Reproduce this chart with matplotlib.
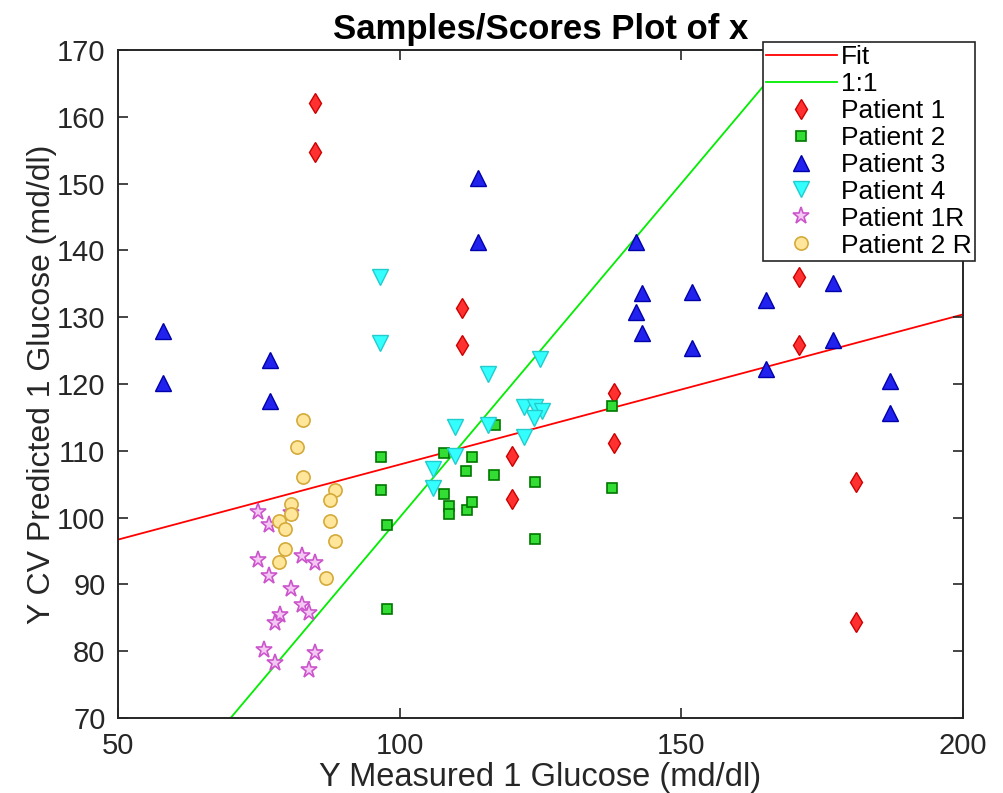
import matplotlib
matplotlib.use("Agg")
import matplotlib.pyplot as plt

plt.rcParams['font.family'] = ['Liberation Sans', 'DejaVu Sans']

# fitted line and 1:1 reference
fit_x = [50, 200]
fit_y = [96.7, 130.4]
one_x = [50, 200]
one_y = [50, 200]

# Patient 1
p1_x = [85, 85, 111, 111, 120, 120, 138, 138, 171, 171, 181, 181]
p1_y = [162, 154.7, 131.3, 125.8, 109.2, 102.8, 118.6, 111.2, 136, 125.8, 105.4, 84.4]

# Patient 2
p2_x = [107.8, 116.9, 112.9, 111.8, 116.7, 124.0, 137.8, 137.8, 107.8, 108.8,
        108.8, 111.9, 112.9, 124.0, 96.7, 96.7, 97.7, 97.7]
p2_y = [109.7, 113.8, 109.1, 107.0, 106.4, 105.3, 116.7, 104.4, 103.5, 101.8,
        100.5, 101.2, 102.3, 96.8, 109.1, 104.1, 98.9, 86.3]

# Patient 3
p3_x = [58, 58, 77, 77, 114, 114, 142, 143, 142, 143, 152, 152, 165, 165, 177, 177, 187, 187]
p3_y = [128, 120.1, 123.6, 117.5, 150.8, 141.2, 141.2, 133.6, 130.7, 127.7,
        133.8, 125.4, 132.5, 122.2, 135.1, 126.6, 120.4, 115.7]

# Patient 4
p4_x = [96.6, 96.6, 115.7, 125, 109.8, 115.7, 122, 124, 125.2, 123.9, 122, 109.8, 106, 106]
p4_y = [136, 126.2, 121.5, 123.8, 113.6, 113.9, 116.5, 116.6, 116, 114.9, 112.1, 109.2, 107.2, 104.4]

# Patient 1R
p1r_x = [74.9, 76.9, 74.9, 76.9, 82.7, 84.9, 80.7, 82.7, 83.9, 78.7, 77.9, 75.9, 77.9, 84.9, 83.9, 80.7]
p1r_y = [100.9, 98.9, 93.7, 91.3, 94.2, 93.2, 89.3, 86.9, 85.7, 85.4, 84.2, 80.2, 78.3, 79.7, 77.2, 100.7]

# Patient 2 R
p2r_x = [82.8, 81.8, 82.8, 88.6, 87.7, 80.7, 80.7, 78.6, 87.7, 79.7, 88.6, 79.7, 78.6, 86.9]
p2r_y = [114.6, 110.5, 106.1, 104.1, 102.6, 102.1, 100.6, 99.5, 99.5, 98.3, 96.5, 95.3, 93.4, 91.0]

fig = plt.figure(figsize=(10.04, 7.93), dpi=100)
ax = fig.add_axes([0.1175, 0.0946, 0.8415, 0.8424])

ax.plot(fit_x, fit_y, color='#ff0000', lw=1.3, label='Fit', zorder=1)
ax.plot(one_x, one_y, color='#00ee00', lw=1.3, label='1:1', zorder=1)

ax.plot(p1_x, p1_y, 'd', ms=10.5, mfc='#ff3030', mec='#cc0000', mew=1, label='Patient 1')
ax.plot(p2_x, p2_y, 's', ms=7, mfc='#33dd33', mec='#007700', mew=1.2, label='Patient 2')
ax.plot(p3_x, p3_y, '^', ms=11, mfc='#2222ee', mec='#0000aa', mew=1, label='Patient 3')
ax.plot(p4_x, p4_y, 'v', ms=11, mfc='#33ffff', mec='#22cccc', mew=1, label='Patient 4')
ax.plot(p1r_x, p1r_y, '*', ms=12.5, mfc='#f3c8f3', mec='#cc55cc', mew=1.2, label='Patient 1R')
ax.plot(p2r_x, p2r_y, 'o', ms=9.5, mfc='#ffe69a', mec='#d4aa3a', mew=1.2, label='Patient 2 R')

ax.set_xlim(50, 200)
ax.set_ylim(70, 170)
ax.set_xticks([50, 100, 150, 200])
ax.set_yticks(range(70, 171, 10))

ax.tick_params(direction='in', length=7, width=1.2, top=True, right=True,
               labelsize=21, labelcolor='#262626', color='#262626')
ax.tick_params(axis='x', pad=10)
ax.tick_params(axis='y', pad=9)
for s in ax.spines.values():
    s.set_linewidth(1.4)
    s.set_color('#262626')

ax.set_xlabel('Y Measured 1 Glucose (md/dl)', fontsize=23.5, color='#262626', labelpad=1.5)
ax.set_ylabel('Y CV Predicted 1 Glucose (md/dl)', fontsize=23, color='#262626', labelpad=0)
ax.set_title('Samples/Scores Plot of x', fontsize=25, fontweight='bold', pad=8)

leg = ax.legend(loc='upper right', bbox_to_anchor=(0.971, 0.947),
                bbox_transform=fig.transFigure, fontsize=19, frameon=True,
                fancybox=False, framealpha=1, edgecolor='#262626',
                borderaxespad=0, borderpad=0.12, labelspacing=0.11,
                handlelength=2.7, handletextpad=0.15)
leg.get_frame().set_linewidth(1.2)

fig.savefig('out.png', dpi=100)
